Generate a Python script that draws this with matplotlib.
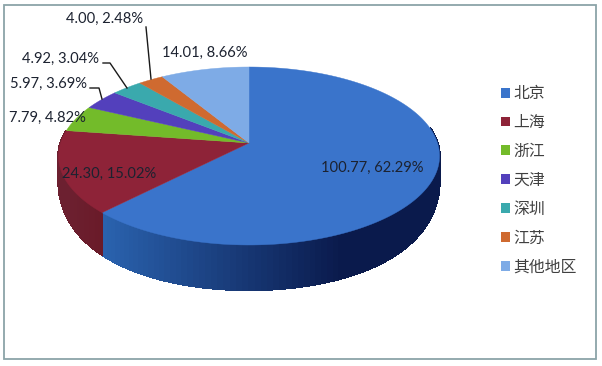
import numpy as np
import matplotlib
matplotlib.use("Agg")
import matplotlib.pyplot as plt
from matplotlib.patches import Rectangle, Patch
from matplotlib.colors import to_rgb

regions = ['北京', '上海', '浙江', '天津', '深圳', '江苏', '其他地区']
values = [100.77, 24.30, 7.79, 5.97, 4.92, 4.00, 14.01]
percents = [62.29, 15.02, 4.82, 3.69, 3.04, 2.48, 8.66]

colors = ['#3a74cb', '#8e2338', '#73bb2a', '#5340bc', '#3aa9ad', '#cf6a30', '#7eabe6']
side_left = {0: '#2a62ae', 1: '#6c2030'}
side_right = {0: '#0a1a4c', 1: '#6a1a28'}

# label placement (pixels): centre x, centre y
label_pos = [(372.5, 168), (109.5, 174), (47.5, 118), (49, 84), (61, 59), (104.5, 19), (205, 53)]
leaders = {3: ([90, 99, 102], [88, 88, 99]),
           4: ([103, 110, 127], [63, 63, 88]),
           5: ([146, 151], [27, 79])}

# projected pie geometry in pixels
AX, AY = 249.0, 143.0
K, CY, DX = 0.146, 87.1, 188.5


def rim(theta):
    u, v = np.sin(theta), np.cos(theta)
    w = 1 + K * v
    return AX + DX * u / w, AY - CY * v / w


def depth(theta):
    v = np.cos(theta)
    return 45 - 27 * np.clip(1 + v, 0, None) ** 1.76


plt.rcParams['font.family'] = ['Lato', 'Noto Sans CJK SC', 'DejaVu Sans']
fig = plt.figure(figsize=(6.02, 3.66), dpi=100, facecolor='white')
ax = fig.add_axes([0, 0, 1, 1])
ax.set_xlim(0, 602)
ax.set_ylim(366, 0)
ax.axis('off')

ax.add_patch(Rectangle((3.7, 5), 592.3, 354, fill=False, ec='#8ba4a8', lw=1.3))

edges = np.cumsum([0] + values) / np.sum(values) * 2 * np.pi
vis0, vis1 = np.radians(80), np.radians(278)

# side wall: coloured strips
for i in side_left:
    a, b = max(edges[i], vis0), min(edges[i + 1], vis1)
    th = np.linspace(a, b, 90)
    c0, c1 = np.array(to_rgb(side_left[i])), np.array(to_rgb(side_right[i]))
    for t0, t1 in zip(th[:-1], th[1:]):
        x0, y0 = rim(t0)
        x1, y1 = rim(t1)
        x_mid = (x0 + x1) / 2
        f = np.clip((x_mid - 104) / (340 - 104), 0, 1) if i == 0 else np.clip((x_mid - 66) / 38, 0, 1)
        col = c0 + (c1 - c0) * f
        ax.fill([x0, x1, x1, x0], [y0, y1, y1 + depth(t1), y0 + depth(t0)],
                color=col, lw=1.0, ec=col, zorder=2, antialiased=False)

# top face
handles = []
for i, name in enumerate(regions):
    th = np.linspace(edges[i], edges[i + 1], 200)
    xs, ys = rim(th)
    ax.fill(np.r_[AX, xs], np.r_[AY, ys], color=colors[i], lw=0.3, ec=colors[i], zorder=3)
    handles.append(Patch(fc=colors[i], ec='none', label=name))

# data labels
for i, (x, y) in enumerate(label_pos):
    ax.text(x, y, f'{values[i]:.2f}, {percents[i]:.2f}%', ha='center', va='center',
            fontsize=10.6, color='#1c2230', zorder=5)
for xs, ys in leaders.values():
    ax.plot(xs, ys, color='#1a1a1a', lw=1.0, zorder=4)

ax.legend(handles=handles, loc='center left', bbox_to_anchor=(501 / 602, 1 - 181 / 366),
          frameon=False, fontsize=11.4, handlelength=0.56, handleheight=0.56,
          handletextpad=0.2, labelspacing=0.92, labelcolor='#404040',
          borderpad=0, borderaxespad=0)

fig.savefig('out.png', dpi=100, facecolor='white')
